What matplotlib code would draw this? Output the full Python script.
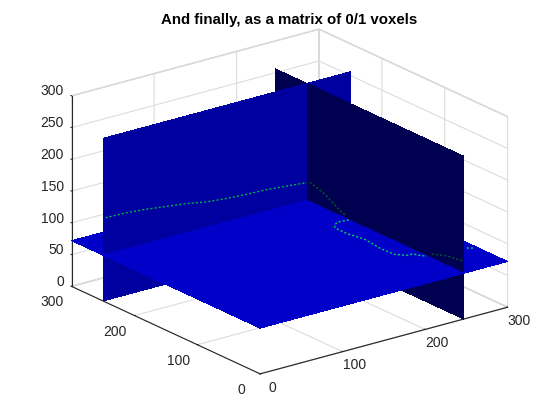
import numpy as np
import matplotlib
matplotlib.use('Agg')
import matplotlib.pyplot as plt
from mpl_toolkits.mplot3d.art3d import Poly3DCollection

plt.rcParams['font.family'] = ['Liberation Sans', 'DejaVu Sans']

# volume size and slice positions, in voxels
x_max, y_max, z_max = 300, 300, 256
x_slice, y_slice, z_slice = 247, 250, 72

ticks = [0, 100, 200, 300]
zticks = [0, 50, 100, 150, 200, 250, 300]

# green curve where it crosses the y slice
curve_y_x = [3, 28, 53, 77, 101, 126, 150, 174, 198, 223, 247]
curve_y_z = [130, 129, 126, 122, 118, 112, 109, 107, 106, 103, 100]

# green curve where it crosses the x slice
curve_x_y1 = [245, 221, 202, 189]
curve_x_z1 = [103, 95, 83, 77]
curve_x_y2 = [51, 27, 0]
curve_x_z2 = [79, 87, 91]

# green curve where it crosses the z slice
curve_z_x = [247, 235, 227, 223, 223, 223, 227, 226, 224, 225, 233, 240, 243, 247]
curve_z_y = [183, 185, 180, 173, 165, 153, 133, 119, 103, 82, 72, 72, 64, 59]
curve_z_x2 = [291, 296]
curve_z_y2 = [53, 49]

c_xplane = '#000050'
c_yplane = '#0000a0'
c_zplane = '#0000c8'


def add_piece(ax, verts, color, order):
    ax.add_collection3d(Poly3DCollection([verts], facecolor=color, edgecolor='none',
                                         antialiased=False, zorder=order, clip_on=False))


def plane_x(ax, y0, y1, z0, z1, order):
    add_piece(ax, [(x_slice, y0, z0), (x_slice, y1, z0), (x_slice, y1, z1), (x_slice, y0, z1)], c_xplane, order)


def plane_y(ax, x0, x1, z0, z1, order):
    add_piece(ax, [(x0, y_slice, z0), (x1, y_slice, z0), (x1, y_slice, z1), (x0, y_slice, z1)], c_yplane, order)


def plane_z(ax, x0, x1, y0, y1, order):
    add_piece(ax, [(x0, y0, z_slice), (x1, y0, z_slice), (x1, y1, z_slice), (x0, y1, z_slice)], c_zplane, order)


fig = plt.figure(figsize=(5.6, 4.2), dpi=100)
ax = fig.add_axes([0.058, 0.058, 0.9, 0.9], projection='3d', computed_zorder=False)
ax.set_proj_type('ortho')
ax.view_init(elev=20.7, azim=-127.3)
ax.set_box_aspect((1, 1, 0.655), zoom=1.245)

# painter's order, far pieces first
plane_z(ax, x_slice, x_max, y_slice, y_max, 1)
plane_y(ax, x_slice, x_max, 0, z_slice, 2)
plane_y(ax, x_slice, x_max, z_slice, z_max, 2)
plane_z(ax, x_slice, x_max, 0, y_slice, 3)
plane_x(ax, 0, y_slice, 0, z_slice, 4)
plane_x(ax, 0, y_slice, z_slice, z_max, 4)
plane_x(ax, y_slice, y_max, 0, z_slice, 4)
plane_x(ax, y_slice, y_max, z_slice, z_max, 4)
plane_z(ax, 0, x_slice, y_slice, y_max, 5)
plane_y(ax, 0, x_slice, 0, z_slice, 6)
plane_y(ax, 0, x_slice, z_slice, z_max, 6)
plane_z(ax, 0, x_slice, 0, y_slice, 7)

dots = (0, (1.5, 1.5))
ax.plot(curve_y_x, [y_slice]*len(curve_y_x), curve_y_z, color='#00b048', lw=1, ls=dots, zorder=8)
ax.plot([x_slice]*4, curve_x_y1, curve_x_z1, color='#005a28', lw=1, ls=dots, zorder=8)
ax.plot([x_slice]*3, curve_x_y2, curve_x_z2, color='#005a28', lw=1, ls=dots, zorder=8)
ax.plot(curve_z_x, curve_z_y, [z_slice]*len(curve_z_x), color='#00d060', lw=1, ls=dots, zorder=8)
ax.plot(curve_z_x2, curve_z_y2, [z_slice]*2, color='#00d060', lw=1, ls=dots, zorder=8)
for line in ax.lines:
    line.set_clip_on(False)

ax.set_xlim(0, 300, view_margin=0)
ax.set_ylim(0, 300, view_margin=0)
ax.set_zlim(0, 300, view_margin=0)
ax.set_xticks(ticks)
ax.set_yticks(ticks)
ax.set_zticks(zticks)

for axis in (ax.xaxis, ax.yaxis, ax.zaxis):
    axis.set_pane_color((1, 1, 1, 1))
    axis.pane.set_edgecolor('#c8c8c8')
    axis.line.set_color('#262626')
    axis.line.set_linewidth(0.8)
    axis._axinfo['grid']['color'] = '#dcdcdc'
    axis._axinfo['grid']['linewidth'] = 0.8
    axis._axinfo['tick']['inward_factor'] = 0.0
    axis._axinfo['tick']['outward_factor'] = 0.05
    axis._axinfo['tick']['linewidth'] = {True: 0.7, False: 0.5}
ax.tick_params(labelsize=10, colors='#262626', pad=0)
ax.tick_params(axis='x', pad=1)
ax.tick_params(axis='y', pad=3)
ax.tick_params(axis='z', pad=-5.5)
ax.zaxis._get_tickdir = lambda pos: 1

# tick labels sit a little higher than mplot3d puts them
for axis in (ax.xaxis, ax.yaxis, ax.zaxis):
    for lab in axis.get_ticklabels():
        lab.set_verticalalignment('baseline')
for lab in ax.zaxis.get_ticklabels():
    lab.set_horizontalalignment('right')

fig.text(289.5/560, 1 - 20/420, 'And finally, as a matrix of 0/1 voxels', ha='center', va='center',
         fontsize=10.8, fontweight='bold', color='black')

fig.savefig('out.png', dpi=100)
